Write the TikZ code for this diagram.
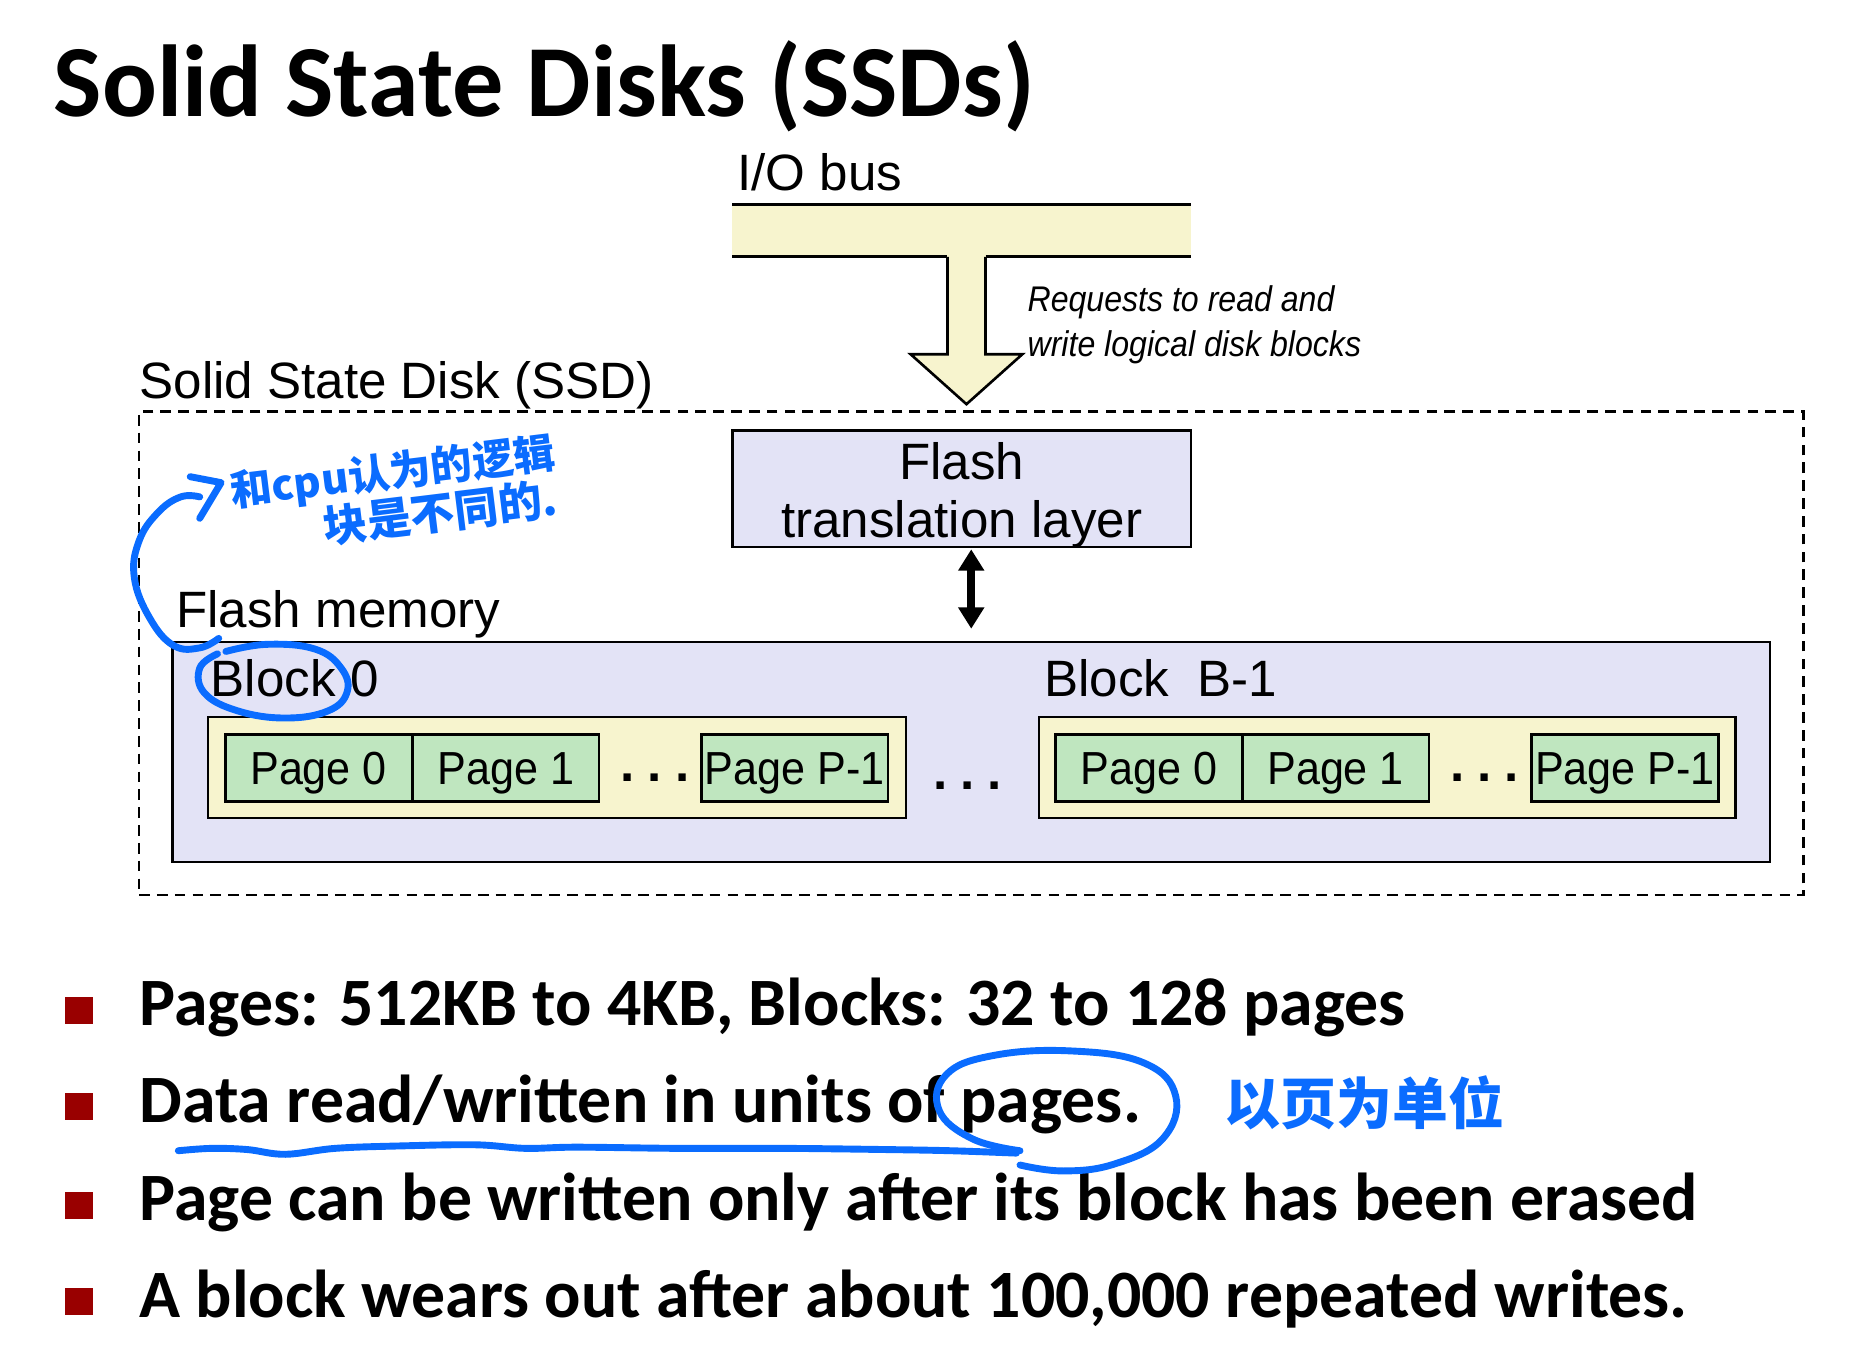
\documentclass[tikz,border=0pt]{standalone}
\usepackage{graphicx}
\usepackage{fontspec}
\setmainfont{Liberation Sans}
\newfontfamily\slidefont{Carlito}
\newfontfamily\cjkfont{Noto Sans CJK SC}
\usetikzlibrary{arrows.meta}

\definecolor{busyellow}{HTML}{F7F4CE}
\definecolor{lavender}{HTML}{E3E3F6}
\definecolor{pagegreen}{HTML}{BFE6BF}
\definecolor{bulletred}{HTML}{990000}
\definecolor{inkblue}{HTML}{0A6CFF}

\newcommand{\narrowtxt}[1]{\scalebox{0.93}[1]{#1}}

\tikzset{
  box/.style={draw=black, line width=1.1pt, inner sep=0pt},
  diagtext/.style={font=\fontsize{21.5}{24}\selectfont, inner sep=0pt, anchor=base west},
  pagebox/.style={box, fill=pagegreen, minimum width=78.5pt, minimum height=28pt,
                  text height=14pt, text depth=0pt,
                  font=\fontsize{19.5}{20}\selectfont},
  blockbox/.style={box, fill=busyellow, minimum width=293.5pt, minimum height=42.5pt},
  dots/.style={font=\fontsize{21.5}{24}\selectfont\bfseries, inner sep=0pt, anchor=base},
  reqtext/.style={font=\itshape\fontsize{15}{19}\selectfont, inner sep=0pt, anchor=base west},
  bullettext/.style={font=\slidefont\bfseries\fontsize{28.5}{30}\selectfont, inner sep=0pt, anchor=base west},
  bulletsq/.style={fill=bulletred, draw=none, minimum size=11.5pt, inner sep=0pt},
  ink/.style={draw=inkblue, line width=2.9pt, line cap=round, line join=round},
  inktext/.style={text=inkblue, font=\cjkfont\bfseries\fontsize{17.5}{19}\selectfont, inner sep=0pt, anchor=base west},
  dblarrow/.style={line width=3.2pt, {Triangle[width=10.5pt,length=9pt]}-{Triangle[width=10.5pt,length=9pt]}},
}

\begin{document}
\begin{tikzpicture}[x=0.5pt, y=-0.5pt]
  \useasboundingbox (0,0) rectangle (1568,1138);
  \fill[white] (0,0) rectangle (1568,1138);

  % title
  \node[font=\slidefont\bfseries\fontsize{43}{44}\selectfont, inner sep=0pt, anchor=base west]
    (title) at (45,98) {Solid State Disks (SSDs)};

  % I/O bus with the request arrow
  \node[diagtext] (buslabel) at (620,160) {I/O bus};
  \fill[busyellow] (616,172) rectangle (1002,216);
  \draw[line width=1.1pt] (616,172) -- (1002,172);
  \draw[line width=1.1pt] (616,216) -- (797,216);
  \draw[line width=1.1pt] (829,216) -- (1002,216);
  \draw[line width=1.1pt, fill=busyellow, line join=miter]
    (797,216) -- (797,298) -- (766,298) -- (813,340) -- (860,298) -- (829,298) -- (829,216);
  \node[reqtext] (req1) at (864,262) {\scalebox{0.9}[1]{Requests to read and}};
  \node[reqtext] (req2) at (864,300) {\scalebox{0.9}[1]{write logical disk blocks}};

  % SSD enclosure
  \node[diagtext] (ssdlabel) at (117,335) {Solid State Disk (SSD)};
  \node[draw=black, line width=1pt, dash pattern=on 4.5pt off 3pt, inner sep=0pt,
        minimum width=700pt, minimum height=203.5pt] (ssd) at (817,549.5) {};

  % flash translation layer
  \node[box, fill=lavender, minimum width=193pt, minimum height=49pt] (ftl) at (809,411) {};
  \node[diagtext, anchor=base] (ftl1) at (809,403) {Flash};
  \node[diagtext, anchor=base] (ftl2) at (809,452) {translation layer};

  % flash memory
  \node[diagtext] (fmlabel) at (148,528) {Flash memory};
  \node[box, fill=lavender, minimum width=672pt, minimum height=92.5pt] (flash) at (817,632.5) {};
  \draw[dblarrow] ([xshift=4pt, yshift=-0.5pt]ftl.south) -- ([xshift=0pt, yshift=5pt]flash.north);

  % block 0
  \node[diagtext] (b0label) at (177,586) {Block 0};
  \node[blockbox] (blk0) at (468.5,645.5) {};
  \node[pagebox] (b0p0) at (268,646) {\narrowtxt{Page 0}};
  \node[pagebox] (b0p1) at (425.5,646) {\narrowtxt{Page 1}};
  \node[dots] (b0dots) at (551,657) {.\hspace{5.5pt}.\hspace{5.5pt}.};
  \node[pagebox] (b0pl) at (668.5,646) {\narrowtxt{Page P-1}};

  \node[dots] (middots) at (814,664) {.\hspace{5.5pt}.\hspace{5.5pt}.};

  % block B-1
  \node[diagtext] (bllabel) at (878,586) {Block\ \ B-1};
  \node[blockbox, minimum width=293pt] (blkl) at (1167,645.5) {};
  \node[pagebox] (blp0) at (966.5,646) {\narrowtxt{Page 0}};
  \node[pagebox] (blp1) at (1123.5,646) {\narrowtxt{Page 1}};
  \node[dots] (bldots) at (1249,657) {.\hspace{5.5pt}.\hspace{5.5pt}.};
  \node[pagebox] (blpl) at (1367,646) {\narrowtxt{Page P-1}};

  % bullet list
  \node[bulletsq] (sq1) at (66.5,850) {};
  \node[bullettext] (li1) at (117,863) {Pages: 512KB to 4KB, Blocks: 32 to 128 pages};
  \node[bulletsq] (sq2) at (66.5,931) {};
  \node[bullettext] (li2) at (117,944) {Data read/written in units of pages.};
  \node[bulletsq] (sq3) at (66.5,1014) {};
  \node[bullettext] (li3) at (117,1027) {Page can be written only after its block has been erased};
  \node[bulletsq] (sq4) at (66.5,1095) {};
  \node[bullettext] (li4) at (117,1108) {A block wears out after about 100,000 repeated writes.};

  % handwritten notes (the node's base is the second line's baseline)
  \node[inktext, rotate=7, align=left] (note1) at (200,466)
    {和cpu认为的逻辑\\[-0.5pt]\hspace{37pt}{\fontsize{18.5}{19}\selectfont 块是不同的.}};
  \node[inktext, font=\cjkfont\bfseries\fontsize{23.5}{24}\selectfont] (note3) at (1030,946) {以页为单位};

  % ring round "Block" and the curved pointer up to the note
  \draw[ink] plot[smooth, tension=0.7] coordinates
    {(190,548) (225,542) (265,546) (287,562) (292,582) (276,598) (240,604) (200,598) (172,583) (168,562) (183,550)};
  \draw[ink] plot[smooth, tension=0.7] coordinates
    {(184,537) (168,545) (146,543) (126,520) (113,486) (117,455) (133,431) (152,418) (168,418)};
  \draw[ink] (160,401) -- (186,406) -- (168,436);

  % ring round "pages." and the underline
  \draw[ink] plot[smooth, tension=0.7] coordinates
    {(858,968) (818,958) (790,934) (796,904) (835,888) (900,884) (962,894) (989,922) (978,958) (938,979) (895,985) (858,980)};
  \draw[ink] plot[smooth, tension=0.6] coordinates
    {(150,968) (178,966) (208,967) (240,971) (282,966) (335,964) (400,963) (442,966) (485,965) (570,966) (660,966) (745,967) (800,968) (855,970)};
\end{tikzpicture}
\end{document}
